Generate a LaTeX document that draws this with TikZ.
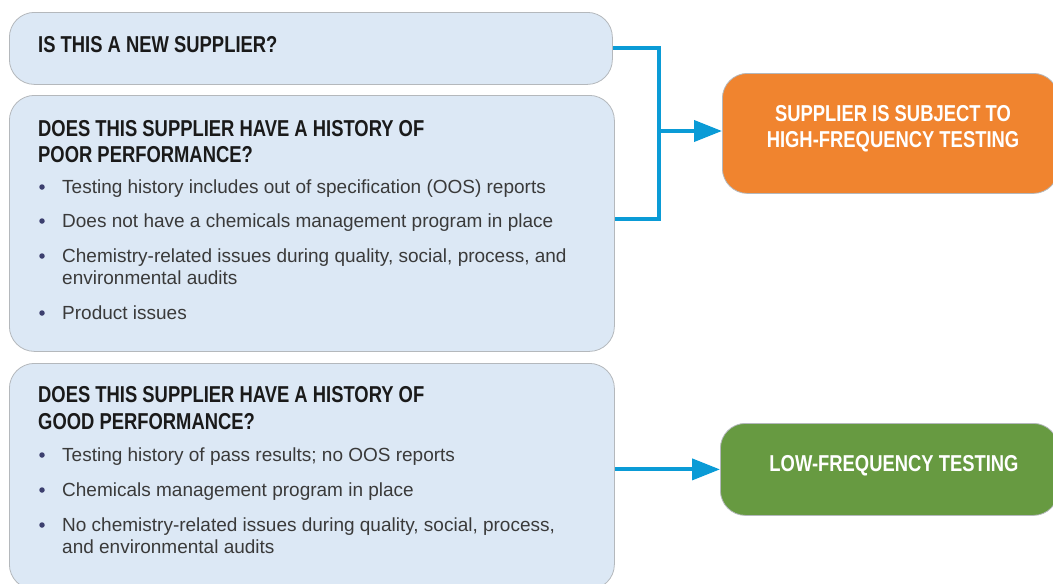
\documentclass[tikz,border=0pt]{standalone}
\usepackage{fontspec}
\setmainfont{Liberation Sans}
\newfontfamily\condbold[FakeStretch=0.80]{Liberation Sans Bold}
\usetikzlibrary{arrows.meta}
\definecolor{boxfill}{HTML}{DCE8F5}
\definecolor{boxline}{HTML}{B4B8BC}
\definecolor{orangebox}{HTML}{F0842F}
\definecolor{greenbox}{HTML}{679A41}
\definecolor{connblue}{HTML}{0A9BD6}
\definecolor{titletxt}{HTML}{1A1A1A}
\definecolor{bodytxt}{HTML}{3A3A3A}
\definecolor{bulletc}{HTML}{3C3F6E}
\tikzset{
  qbox/.style={draw=boxline, line width=0.8pt, fill=boxfill, rounded corners=25pt, anchor=north west, inner sep=0pt},
  resbox/.style={draw=boxline, line width=0.8pt, rounded corners=25pt, anchor=north west, inner sep=0pt},
  qtitle/.style={anchor=base west, inner sep=0pt, font=\condbold\fontsize{23}{27}\selectfont, text=titletxt},
  rtitle/.style={anchor=base, inner sep=0pt, font=\condbold\fontsize{23}{27}\selectfont, text=white, align=center},
  btxt/.style={anchor=base west, inner sep=0pt, font=\fontsize{19}{23}\selectfont, text=bodytxt},
  bdot/.style={circle, fill=bulletc, inner sep=0pt, minimum size=5.5pt},
  conn/.style={draw=connblue, line width=4pt},
  arr/.style={conn, -{Triangle[length=28pt,width=21pt]}}
}
\begin{document}
\begin{tikzpicture}[x=1pt,y=-1pt]
\useasboundingbox (0,0) rectangle (1053,584);
% question boxes
\node[qbox, minimum width=603pt, minimum height=72pt] (b1) at (9,12) {};
\node[qbox, minimum width=605pt, minimum height=256pt] (b2) at (9,95) {};
\node[qbox, minimum width=605pt, minimum height=226pt] (b3) at (9,363) {};
% result boxes
\node[resbox, fill=orangebox, minimum width=336pt, minimum height=120pt] (hi) at (722,73) {};
\node[resbox, fill=greenbox, minimum width=338pt, minimum height=92pt] (lo) at (720,423) {};
% box 1 text
\node[qtitle] (t1) at (38,52) {IS THIS A NEW SUPPLIER?};
% box 2 text
\node[qtitle] (t2a) at (38,136) {DOES THIS SUPPLIER HAVE A HISTORY OF};
\node[qtitle] (t2b) at (38,162) {POOR PERFORMANCE?};
\node[bdot] (d21) at (42,187) {};
\node[btxt] (l21) at (62,193) {Testing history includes out of specification (OOS) reports};
\node[bdot] (d22) at (42,221) {};
\node[btxt] (l22) at (62,227) {Does not have a chemicals management program in place};
\node[bdot] (d23) at (42,256) {};
\node[btxt] (l23) at (62,262) {Chemistry-related issues during quality, social, process, and};
\node[btxt] (l23b) at (62,284) {environmental audits};
\node[bdot] (d24) at (42,313) {};
\node[btxt] (l24) at (62,319) {Product issues};
% box 3 text
\node[qtitle] (t3a) at (38,402) {DOES THIS SUPPLIER HAVE A HISTORY OF};
\node[qtitle] (t3b) at (38,429) {GOOD PERFORMANCE?};
\node[bdot] (d31) at (42,455) {};
\node[btxt] (l31) at (62,461) {Testing history of pass results; no OOS reports};
\node[bdot] (d32) at (42,490) {};
\node[btxt] (l32) at (62,496) {Chemicals management program in place};
\node[bdot] (d33) at (42,525) {};
\node[btxt] (l33) at (62,531) {No chemistry-related issues during quality, social, process,};
\node[btxt] (l33b) at (62,553) {and environmental audits};
% result texts
\node[rtitle] (r1a) at (893,121) {SUPPLIER IS SUBJECT TO};
\node[rtitle] (r1b) at (893,147) {HIGH-FREQUENCY TESTING};
\node[rtitle] (r2) at (894,471) {LOW-FREQUENCY TESTING};
% connectors
\coordinate (j) at (659,131);
\coordinate (jb) at (659,219);
\draw[conn] (b1.east) -| (jb) -- (b2.east |- jb);
\draw[arr] (j) -- (j -| hi.west);
\draw[arr] (b3.east |- lo.west) -- (lo.west);
\end{tikzpicture}
\end{document}
